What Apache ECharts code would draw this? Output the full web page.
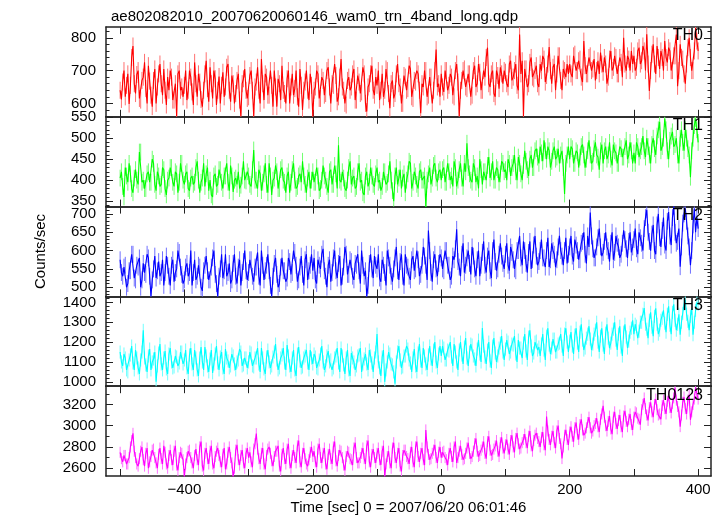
<!DOCTYPE html>
<html><head><meta charset="utf-8">
<script src="https://cdn.jsdelivr.net/npm/echarts@6/dist/echarts.min.js"></script>
<style>html,body{margin:0;padding:0;background:#fff}#c{width:723px;height:516px}</style>
</head><body><div id="c"></div>
<script>
// time bins: first bin time and bin width (sec)
const timeStart = -500, timeStep = 2;

// TH0 counts/sec
const th0 = [
640,612,665,700,620,655,690,598,655,740,775,660,630,688,700,615,610,670,680,725,645,600,715,668,625,590,670,705,600,650,690,720,660,625,705,640,595,680,640,700,680,610,610,660,561,690,700,640,650,620,
655,700,610,640,700,680,635,595,725,660,620,690,665,612,590,640,690,730,645,605,710,660,615,700,675,595,640,682,600,655,695,620,650,710,720,640,605,685,660,600,630,670,690,610,561,660,675,705,640,615,
620,685,700,640,561,650,665,710,640,600,735,660,610,690,680,625,625,700,655,590,700,650,590,675,660,610,715,640,630,600,675,700,600,650,690,625,645,700,620,590,705,655,580,640,665,700,640,610,690,655,
560,640,650,700,690,615,615,680,670,625,630,700,710,650,600,660,655,720,685,605,620,680,735,650,640,600,595,670,680,640,650,690,705,610,610,685,665,630,635,710,690,600,575,650,660,690,715,640,625,680,
655,700,610,640,690,620,640,705,700,630,585,660,670,615,630,690,720,660,650,600,600,685,680,640,645,715,705,620,615,670,665,700,690,640,570,660,650,700,700,620,625,680,680,600,640,700,764,650,660,620,
690,650,635,700,700,640,655,690,680,625,620,700,720,665,561,640,670,700,705,650,645,690,690,620,625,700,715,650,660,720,695,640,640,700,680,740,770,660,650,690,700,630,620,700,685,645,710,690,660,700,
695,660,650,720,730,670,680,700,720,655,640,810,690,730,561,705,705,650,660,725,740,680,675,700,715,660,650,720,700,745,735,665,685,720,772,700,660,710,720,640,690,745,745,670,640,705,700,680,720,690,
720,690,680,745,750,700,700,730,735,680,665,790,715,690,690,740,745,700,705,735,670,700,730,690,755,720,695,740,720,660,680,735,760,700,710,745,740,690,690,740,725,680,800,720,700,745,735,700,760,720,
745,700,710,760,770,720,730,775,760,700,811,720,638,700,750,780,720,690,775,740,705,760,740,700,790,740,725,770,760,700,700,745,745,810,652,700,780,740,735,690,660,720,770,800,740,700,700,760,830,790,
760];

// TH1 counts/sec
const th1 = [
405,420,385,360,430,410,395,440,415,380,370,405,425,400,390,467,467,395,400,380,380,415,420,395,395,450,440,390,375,420,410,385,390,430,425,380,365,400,405,430,430,395,385,420,415,370,395,440,440,400,
390,415,420,380,375,405,410,390,395,430,445,400,370,395,405,440,385,415,430,375,400,365,360,410,415,385,390,425,425,395,380,410,410,440,395,375,435,410,372,400,405,390,420,380,388,410,445,400,398,420,
410,390,385,425,472,400,400,380,425,415,375,395,415,440,390,370,440,410,365,400,405,435,420,380,380,425,430,400,395,370,410,420,370,395,425,440,400,380,385,410,415,395,445,410,390,370,405,420,380,400,
420,395,395,430,410,375,380,400,435,410,400,385,370,420,425,390,390,435,415,380,483,400,395,420,405,380,375,400,430,445,390,405,410,380,385,420,440,395,400,370,365,410,420,385,395,430,410,390,385,415,
430,395,400,375,385,420,420,390,395,415,445,400,375,350,410,430,390,405,425,380,405,415,370,400,415,445,440,380,395,420,410,390,380,420,425,400,400,410,336,400,415,430,390,405,435,440,405,395,420,425,
400,425,430,395,395,440,420,400,410,385,445,430,385,400,425,440,405,385,440,420,488,430,415,400,395,440,430,395,410,380,450,425,390,420,420,400,435,455,405,420,445,400,400,430,425,395,415,445,440,420,
425,400,450,440,410,430,440,460,420,400,455,440,415,400,435,470,445,425,410,450,460,430,430,470,475,455,440,480,465,445,495,470,450,480,470,430,445,470,480,450,455,475,440,460,470,430,367,440,460,480,
450,480,475,440,440,470,465,430,455,480,485,460,430,450,470,495,460,440,445,475,490,460,455,425,470,485,440,470,480,450,460,490,450,435,485,470,465,440,440,480,475,455,455,480,495,450,460,490,470,440,
465,440,490,480,455,470,480,505,470,455,500,480,460,440,485,500,475,460,505,520,539,470,480,500,547,520,470,450,495,505,515,480,485,500,460,440,500,520,490,470,520,500,475,460,407,470,500,530,547,520,
490];

// TH2 counts/sec
const th2 = [
575,540,530,555,560,500,510,545,545,590,590,525,520,560,555,580,500,520,565,540,535,590,580,530,475,520,550,585,525,545,570,530,540,575,505,540,585,560,530,505,560,575,515,540,550,600,595,555,535,510,
520,555,565,530,540,600,505,540,575,520,530,560,555,500,490,545,560,585,545,520,520,555,580,600,535,510,475,530,550,590,525,545,590,530,540,565,510,520,565,590,530,510,555,575,505,540,570,600,545,520,
540,575,575,530,515,555,555,595,530,505,600,560,520,545,560,590,545,505,475,530,565,580,535,500,510,555,580,545,545,515,525,580,570,535,540,600,595,560,515,520,555,585,535,505,575,590,520,545,560,590,
545,580,520,510,575,560,550,590,605,545,530,500,560,575,515,540,580,600,545,525,565,585,505,530,555,610,590,535,535,575,570,530,520,565,560,590,545,510,600,560,530,545,475,505,565,590,550,525,585,560,
550,590,525,515,575,560,540,505,600,580,560,530,515,550,580,610,545,520,570,590,530,505,590,560,555,530,520,575,585,545,550,600,575,530,535,560,610,585,560,520,655,600,540,515,575,590,550,530,565,590,
580,550,545,600,600,560,560,520,530,585,575,605,658,570,555,530,590,620,540,560,580,600,565,535,610,585,550,530,575,600,530,560,595,625,560,540,585,600,545,525,600,630,570,545,550,590,620,585,565,550,
590,620,560,545,610,595,575,550,545,600,600,640,580,560,625,600,565,540,595,625,550,575,615,640,585,560,570,600,630,580,580,555,600,635,555,575,620,600,590,555,575,610,640,600,585,560,600,635,565,590,
610,640,585,570,630,615,600,575,575,620,625,650,590,565,640,610,704,640,605,580,580,610,635,660,610,585,595,625,650,610,600,570,620,650,575,595,640,620,610,580,590,620,655,630,605,580,625,650,595,610,
630,660,605,590,650,635,620,600,660,690,711,650,625,600,645,670,600,590,670,700,635,610,655,690,615,600,680,705,640,615,690,720,650,620,625,660,556,610,675,700,715,680,640,610,560,600,670,715,650,690,
660];

// TH3 counts/sec
const th3 = [
1150,1100,1080,1140,1120,1060,1050,1110,1135,1180,1095,1060,1160,1120,1070,1040,1110,1150,1259,1120,1085,1050,1130,1165,1060,1100,1115,1150,1000,1080,1145,1190,1090,1060,1120,1155,1065,1040,1140,1170,1100,1070,1075,1130,1125,1080,1095,1150,1150,1090,
1110,1160,1070,1040,1135,1170,1090,1060,1160,1120,1060,1030,1120,1175,1100,1060,1175,1130,1080,1050,1115,1160,1045,1090,1140,1180,1095,1060,1125,1150,1070,1040,1165,1120,1105,1070,1080,1140,1130,1090,1060,1100,1110,1165,1150,1080,1085,1120,1120,1070,
1100,1150,1145,1080,1075,1120,1120,1170,1090,1050,1170,1120,1065,1040,1125,1160,1100,1070,1080,1125,1150,1190,1110,1060,1070,1120,1135,1170,1095,1060,1185,1130,1080,1050,1120,1160,1060,1030,1140,1175,1105,1070,1075,1120,1130,1160,1095,1060,1160,1120,
1090,1140,1125,1070,1065,1110,1140,1180,1100,1060,1080,1130,1155,1100,1110,1060,1070,1120,1130,1170,1095,1050,1170,1130,1085,1040,1120,1160,1060,1030,1145,1120,1100,1060,1080,1130,1135,1170,1050,1090,1115,1140,1090,1060,1160,1130,1095,1050,1120,1150,
1240,1100,1070,1030,1125,1160,1000,1060,1100,1150,1140,1090,1085,1050,990,1100,1150,1180,1110,1070,1075,1130,1130,1180,1165,1110,1095,1050,1120,1165,1080,1050,1145,1190,1105,1070,1170,1130,1090,1060,1135,1180,1115,1080,1160,1200,1100,1070,1140,1180,
1130,1180,1170,1110,1110,1160,1155,1200,1125,1080,1190,1150,1100,1060,1160,1200,1135,1090,1175,1220,1120,1080,1150,1190,1185,1130,1115,1080,1165,1210,1140,1100,1271,1180,1125,1090,1160,1200,1105,1070,1180,1220,1145,1100,1130,1170,1195,1230,1150,1110,
1165,1210,1200,1140,1150,1190,1185,1230,1140,1100,1210,1170,1170,1120,1195,1240,1155,1110,1225,1260,1180,1130,1145,1200,1205,1160,1175,1130,1190,1240,1160,1110,1230,1270,1185,1140,1170,1215,1215,1150,1150,1190,1195,1240,1180,1130,1240,1270,1200,1150,
1205,1250,1180,1140,1235,1270,1195,1150,1250,1290,1210,1160,1170,1220,1240,1280,1215,1160,1190,1240,1260,1300,1200,1150,1230,1270,1185,1140,1245,1290,1220,1170,1195,1240,1265,1300,1210,1160,1240,1280,1175,1130,1250,1290,1225,1170,1205,1250,1270,1310,
1240,1290,1280,1220,1255,1300,1300,1340,1371,1290,1265,1220,1310,1350,1275,1230,1330,1370,1290,1240,1260,1310,1320,1360,1295,1250,1340,1380,1285,1240,1350,1390,1310,1260,1290,1340,1237,1300,1345,1390,1413,1340,1305,1260,1330,1370,1237,1300,1360,1400,
1390];

// TH0123 counts/sec
const th0123 = [
2750,2690,2660,2720,2720,2640,2640,2700,2800,2860,2928,2760,2700,2640,2620,2690,2760,2800,2680,2620,2740,2790,2600,2660,2710,2770,2780,2700,2650,2600,2730,2790,2690,2640,2810,2750,2640,2600,2720,2770,2680,2630,2760,2810,2630,2580,2700,2750,2740,2680,
2517,2640,2700,2760,2770,2700,2650,2600,2720,2780,2680,2630,2800,2850,2620,2580,2740,2790,2690,2640,2760,2810,2640,2600,2710,2760,2790,2720,2660,2610,2730,2790,2590,2640,2750,2800,2700,2650,2517,2600,2770,2820,2680,2630,2720,2770,2650,2600,2740,2790,
2700,2750,2660,2610,2780,2830,2925,2780,2690,2640,2740,2790,2640,2590,2720,2780,2800,2740,2670,2620,2710,2760,2760,2810,2620,2570,2730,2790,2690,2640,2780,2830,2650,2600,2720,2770,2700,2650,2810,2860,2660,2610,2740,2790,2690,2640,2620,2680,2750,2800,
2710,2760,2660,2610,2780,2830,2700,2650,2740,2790,2640,2590,2730,2780,2690,2640,2800,2850,2670,2620,2720,2770,2760,2700,2630,2580,2710,2760,2750,2690,2680,2630,2790,2840,2700,2650,2650,2700,2740,2790,2690,2640,2810,2860,2660,2610,2730,2780,2700,2650,
2740,2790,2680,2630,2760,2810,2517,2640,2710,2760,2650,2600,2790,2840,2700,2650,2740,2790,2620,2570,2720,2770,2770,2710,2690,2640,2750,2800,2660,2610,2800,2850,2710,2660,2740,2790,2680,2630,2960,2800,2730,2680,2690,2740,2770,2820,2700,2650,2750,2800,
2700,2750,2760,2700,2680,2630,2740,2790,2710,2660,2800,2850,2650,2700,2760,2810,2730,2680,2690,2740,2790,2840,2740,2690,2710,2760,2830,2880,2760,2710,2720,2770,2800,2850,2740,2690,2850,2900,2770,2720,2730,2780,2810,2860,2760,2710,2840,2890,2790,2740,
2820,2870,2780,2730,2860,2910,2800,2750,2880,2930,2830,2780,2790,2840,2870,2920,2840,2790,2900,2950,2810,2760,2860,2910,2930,2880,2850,2800,2890,2940,2820,2770,3086,2950,2870,2820,2900,2950,2840,2790,2950,3000,2880,2830,2691,2800,2910,2960,2870,2820,
2940,2990,2900,2850,2980,3030,2920,2870,3010,3060,2960,2910,2930,2980,3030,3080,2980,2930,2950,3000,3020,3070,2990,2940,3060,3110,3187,3080,3000,2950,3040,3090,2970,2920,3080,3130,3020,2970,3050,3100,2990,2940,3090,3140,3040,2990,3060,3110,3010,2960,
3080,3130,3120,3070,3060,3010,3150,3200,3260,3160,3100,3050,3170,3220,3130,3080,3200,3250,3150,3100,3110,3060,3190,3240,3160,3110,3230,3280,3170,3120,3210,3260,3355,3240,3180,3130,2991,3100,3220,3270,3160,3110,3240,3290,3055,3130,3200,3250,3360,3300,
3250];

// typical 1-sigma error of each band (counts/sec)
const panelErrors = [26, 20, 23, 33, 52];

const panelNames = ['TH0','TH1','TH2','TH3','TH0123'];
const panelValues = [th0, th1, th2, th3, th0123];
const yLabelValues = [
  [600,700,800],
  [350,400,450,500,550],
  [500,550,600,650,700],
  [1000,1100,1200,1300,1400],
  [2600,2800,3000,3200]
];
const xTickValues = [-500,-400,-300,-200,-100,0,100,200,300,400];
const xLabelValues = [-400,-200,0,200,400];
const titleText = 'ae802082010_20070620060146_wam0_trn_4band_long.qdp';
const xName = 'Time [sec] 0 = 2007/06/20 06:01:46';
const yName = 'Counts/sec';

// layout / style
const colors = ['#ff0000','#00ff00','#0000ff','#00ffff','#ff00ff'];
const errColors = ['#ff7070','#70ff70','#7070ff','#70ffff','#ff70ff'];
const yRange = [[559,833],[337,551],[475,720],[978,1430],[2527,3371]];
const yMinorStep = [20,10,10,20,100];
const FONT = 'Liberation Sans, Arial, Helvetica, sans-serif';
const GL = 106, GR = 12, GT = 27, GH = 89.8;
const frameColor = '#222';

function minorList(r, step){
  const out=[]; for(let v=Math.ceil(r[0]/step)*step; v<=r[1]; v+=step) out.push(v); return out;
}
const fmtMinus = v => String(v).replace('-', '\u2212');
const fmtPlain = v => String(v);

const grids=[], xAxes=[], yAxes=[], series=[], graphics=[];
panelValues.forEach((vals, i) => {
  grids.push({left:GL, right:GR, top:GT + i*GH, height:GH});
  const xBase = {type:'value', gridIndex:i, min:-522, max:420, splitLine:{show:false},
    axisLine:{show:true, onZero:false, lineStyle:{color:frameColor, width:1.5}},
    axisTick:{show:true, inside:true, length:7, customValues:xTickValues, lineStyle:{color:frameColor, width:1}}};
  const last = i === panelValues.length-1;
  xAxes.push(Object.assign({}, xBase, {position:'bottom',
    axisLabel: last ? {show:true, customValues:xLabelValues, formatter:fmtMinus, fontSize:15, fontFamily:FONT, color:'#000', margin:6} : {show:false},
    name: last ? xName : '', nameLocation:'middle', nameGap:24,
    nameTextStyle:{fontSize:15, fontFamily:FONT, color:'#000'}}));
  xAxes.push(Object.assign({}, xBase, {position:'top', axisLabel:{show:false}}));
  const yBase = {type:'value', gridIndex:i, min:yRange[i][0], max:yRange[i][1], splitLine:{show:false}};
  const minors = minorList(yRange[i], yMinorStep[i]);
  const majorIdx = yAxes.length;
  yAxes.push(Object.assign({}, yBase, {position:'left',
    axisLine:{show:true, onZero:false, lineStyle:{color:frameColor, width:1.5}},
    axisTick:{show:true, inside:true, length:7, customValues:yLabelValues[i], lineStyle:{color:frameColor}},
    axisLabel:{show:true, customValues:yLabelValues[i], formatter:fmtPlain, fontSize:15, fontFamily:FONT, color:'#000', margin:10}}));
  yAxes.push(Object.assign({}, yBase, {position:'left', axisLine:{show:false, onZero:false},
    axisTick:{show:true, inside:true, length:3.5, customValues:minors, lineStyle:{color:frameColor}},
    axisLabel:{show:false}}));
  yAxes.push(Object.assign({}, yBase, {position:'right',
    axisLine:{show:true, onZero:false, lineStyle:{color:frameColor, width:1.5}},
    axisTick:{show:true, inside:true, length:7, customValues:yLabelValues[i], lineStyle:{color:frameColor}},
    axisLabel:{show:false}}));
  yAxes.push(Object.assign({}, yBase, {position:'right', axisLine:{show:false, onZero:false},
    axisTick:{show:true, inside:true, length:3.5, customValues:minors, lineStyle:{color:frameColor}},
    axisLabel:{show:false}}));
  const data = vals.map((v, k) => [timeStart + k*timeStep, v]);
  const err = panelErrors[i];
  series.push({type:'custom', xAxisIndex:2*i, yAxisIndex:majorIdx, silent:true, z:2, clip:true,
    data: vals.map((v, k) => [timeStart + k*timeStep, v - err, v + err]),
    renderItem: (params, api) => {
      const p0 = api.coord([api.value(0), api.value(1)]);
      const p1 = api.coord([api.value(0), api.value(2)]);
      return {type:'line', shape:{x1:p0[0], y1:p0[1], x2:p1[0], y2:p1[1]},
        style:{stroke:errColors[i], lineWidth:1}};
    }});
  series.push({type:'line', xAxisIndex:2*i, yAxisIndex:majorIdx, data, showSymbol:false, silent:true,
    lineStyle:{color:colors[i], width:1.1}, z:3});
  graphics.push({type:'text', right:GR+8, top:GT + i*GH + 1, z:10,
    style:{text:panelNames[i], font:'16px '+FONT, fill:'#000'}});
});
graphics.push({type:'text', x:41, y:GT + 2.5*GH, rotation:Math.PI/2, z:10,
  style:{text:yName, font:'15px '+FONT, fill:'#000', align:'center', verticalAlign:'middle'}});

const chart = echarts.init(document.getElementById('c'), null, {renderer:'canvas'});
chart.setOption({
  animation:false,
  backgroundColor:'#fff',
  title:{text:titleText, left:106, top:4, textStyle:{fontSize:15, fontWeight:'normal', fontFamily:FONT, color:'#000'}},
  grid:grids, xAxis:xAxes, yAxis:yAxes, series, graphic:graphics
});
</script></body></html>
